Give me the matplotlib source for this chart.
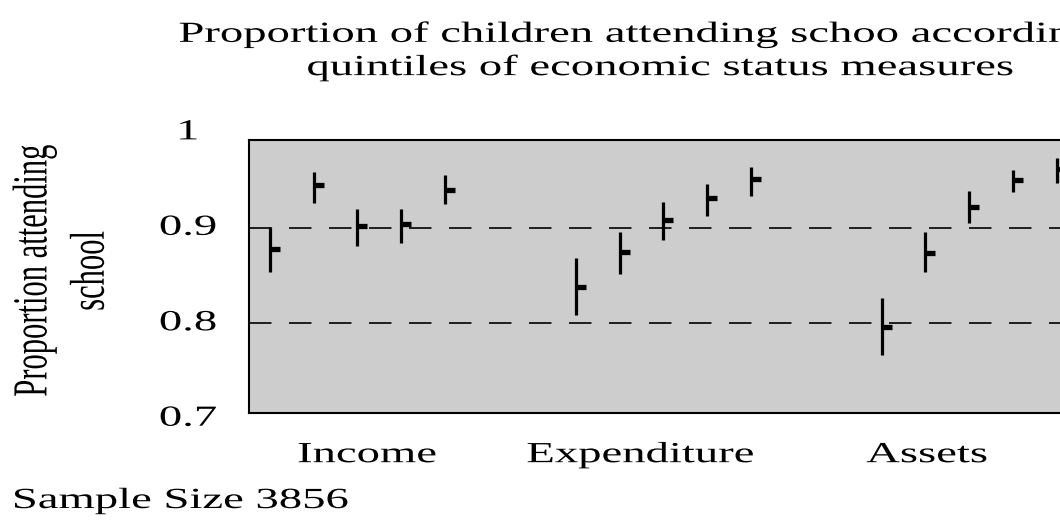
import matplotlib
matplotlib.use("Agg")
import matplotlib.pyplot as plt
from matplotlib.patheffects import AbstractPathEffect
from matplotlib.transforms import Affine2D, blended_transform_factory

# ---- data -------------------------------------------------------------
measures = ["Income", "Expenditure", "Assets"]
quintiles = [1, 2, 3, 4, 5]

income_est = [0.878, 0.945, 0.902, 0.904, 0.940]
income_lo = [0.854, 0.926, 0.881, 0.884, 0.925]
income_hi = [0.901, 0.959, 0.920, 0.920, 0.955]

expenditure_est = [0.838, 0.875, 0.908, 0.931, 0.951]
expenditure_lo = [0.809, 0.852, 0.887, 0.912, 0.933]
expenditure_hi = [0.868, 0.896, 0.927, 0.946, 0.964]

assets_est = [0.796, 0.874, 0.922, 0.950, 0.962]
assets_lo = [0.767, 0.854, 0.905, 0.938, 0.947]
assets_hi = [0.826, 0.896, 0.939, 0.961, 0.973]

y_ticks = [0.7, 0.8, 0.9, 1.0]
y_tick_labels = ["0.7", "0.8", "0.9", "1"]
sample_size = 3856

# ---- layout -----------------------------------------------------------
W, H, DPI = 1060, 530, 100
group_start = [1, 8, 15]          # first quintile slot of each measure
label_pos = [3.22, 9.47, 16.03]   # where the measure names sit
xlim = (0.52, 20.52)
ylim = (0.706, 0.992)
ax_left_px, ax_top_px, ax_bottom_px = 249, 140, 413
unit_px = 43.7

FONT = "Liberation Serif"
FS = 21
WIDEN = 1.6

plt.rcParams["lines.scale_dashes"] = False


class Widen(AbstractPathEffect):
    """Draw text glyphs stretched horizontally about an anchor."""

    def __init__(self, sx, anchor="center"):
        super().__init__()
        self.sx = sx
        self.anchor = anchor

    def draw_path(self, renderer, gc, tpath, affine, rgbFace=None):
        ext = tpath.get_extents(affine)
        if self.anchor == "left":
            x0 = ext.x0
        elif self.anchor == "right":
            x0 = ext.x1
        else:
            x0 = 0.5 * (ext.x0 + ext.x1)
        stretch = Affine2D().translate(-x0, 0).scale(self.sx, 1).translate(x0, 0)
        renderer.draw_path(gc, tpath, affine + stretch, rgbFace)


fig = plt.figure(figsize=(W / DPI, H / DPI), dpi=DPI)
ax_w = (xlim[1] - xlim[0]) * unit_px
ax = fig.add_axes([ax_left_px / W, 1 - ax_bottom_px / H,
                   ax_w / W, (ax_bottom_px - ax_top_px) / H])
ax.set_facecolor("#cdcdcd")
ax.set_xlim(*xlim)
ax.set_ylim(*ylim)
for sp in ax.spines.values():
    sp.set_linewidth(1.5)
    sp.set_color("black")

# dashed reference lines
for yv in (0.8, 0.9):
    ax.axhline(yv, color="black", lw=1.2, linestyle=(0, (16.2, 12.6)), zorder=1)

series = [
    (income_est, income_lo, income_hi),
    (expenditure_est, expenditure_lo, expenditure_hi),
    (assets_est, assets_lo, assets_hi),
]
for start, (est, lo, hi) in zip(group_start, series):
    xs = [start + q - 1 for q in quintiles]
    ax.vlines(xs, lo, hi, color="black", lw=2.3, zorder=3)
    ax.plot(xs, est, linestyle="none", marker=1, markersize=7,
            markeredgewidth=3.8, color="black", zorder=4)

widen_c = [Widen(WIDEN, "center")]

# category labels along the bottom
ax.set_xticks(label_pos, measures)
ax.tick_params(axis="x", length=0, pad=21)
for lbl in ax.get_xticklabels():
    lbl.set_fontfamily(FONT)
    lbl.set_fontsize(FS)
    lbl.set_path_effects(widen_c)

# y labels, centred in a column left of the frame
ax.set_yticks([])
ytr = blended_transform_factory(fig.transFigure, ax.transData)
for yv, s in zip(y_ticks, y_tick_labels):
    ax.text(188 / W, yv, s, transform=ytr, ha="center", va="center",
            fontfamily=FONT, fontsize=FS, path_effects=widen_c, clip_on=False)

fig.text(62 / W, 1 - 271 / H, "Proportion attending\nschool", rotation=90,
         ha="center", va="center", fontfamily=FONT, fontsize=22,
         linespacing=2.2, path_effects=widen_c)

fig.text(660 / W, 1 - 51 / H,
         "Proportion of children attending schoo according to\n"
         "quintiles of economic status measures",
         ha="center", va="center", fontfamily=FONT, fontsize=FS,
         linespacing=1.3, path_effects=widen_c)

fig.text(13 / W, 1 - 501 / H, f"Sample Size {sample_size}",
         ha="left", va="center", fontfamily=FONT, fontsize=FS,
         path_effects=[Widen(WIDEN, "left")])

fig.savefig("out.png", dpi=DPI)
